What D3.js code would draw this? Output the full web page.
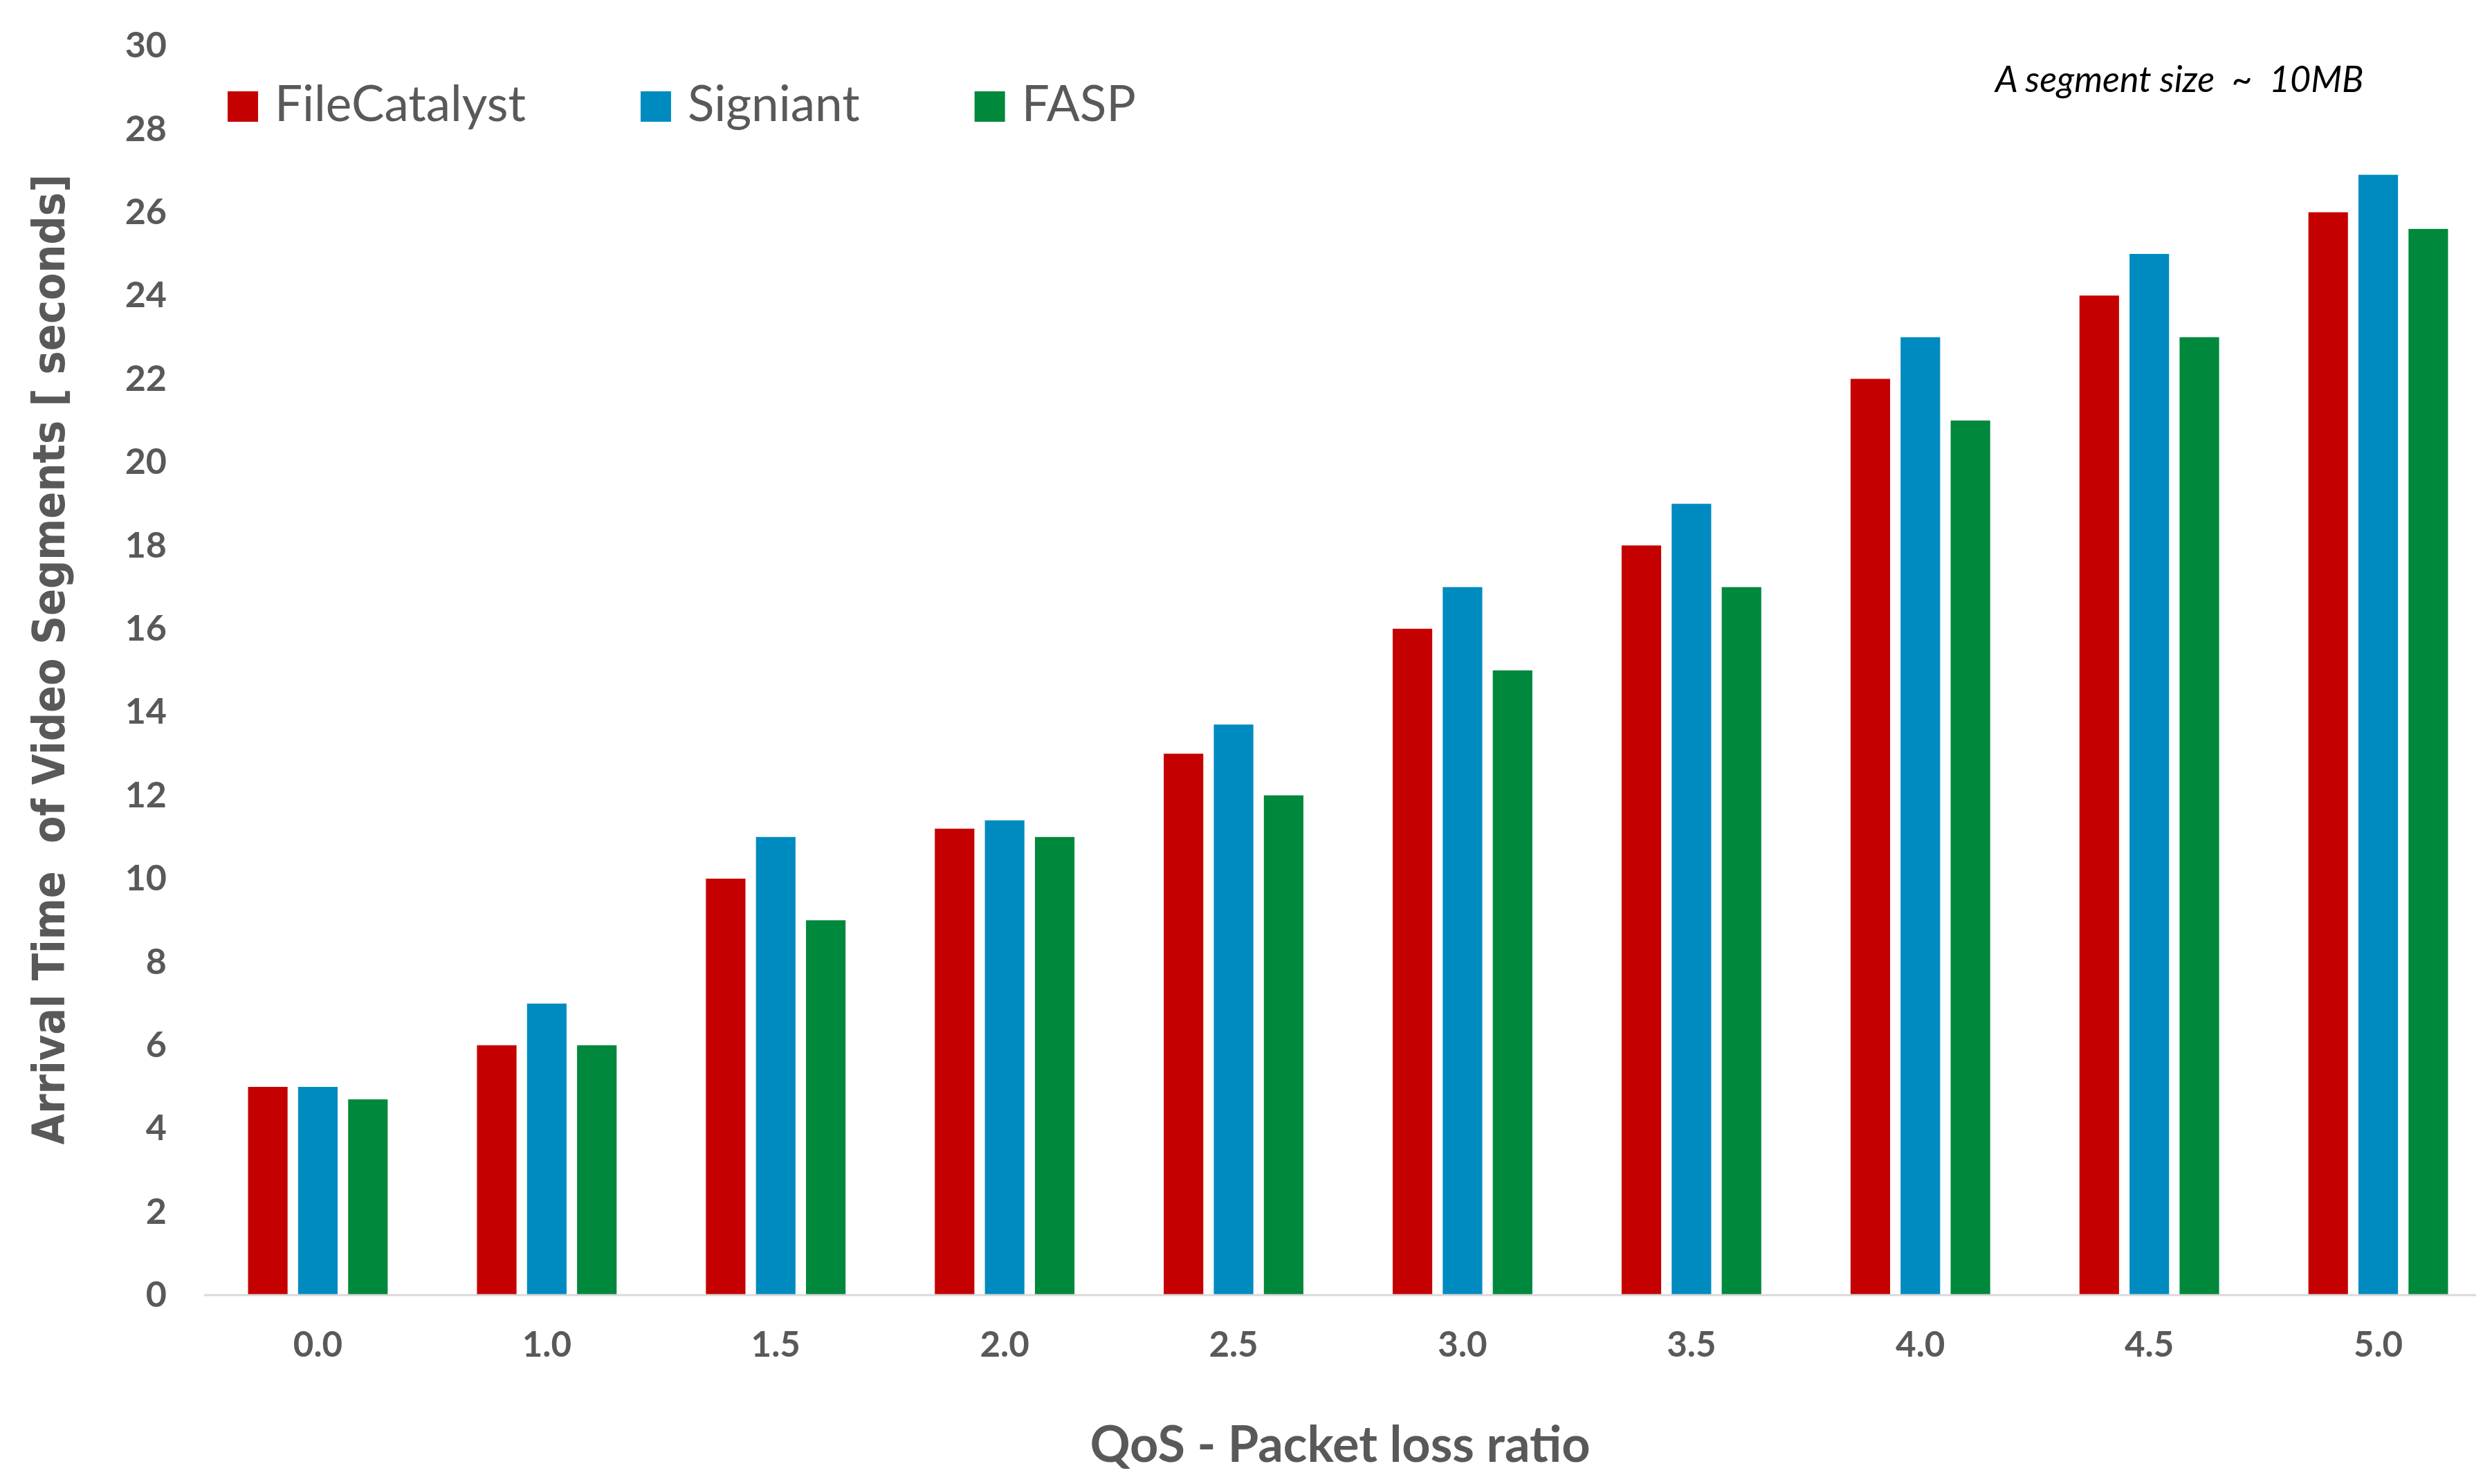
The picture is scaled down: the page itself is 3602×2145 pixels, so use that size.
<!DOCTYPE html>
<html>
<head>
<meta charset="utf-8">
<script src="https://cdn.jsdelivr.net/npm/d3@7"></script>
<style>
  html, body { margin: 0; padding: 0; background: #fff; }
  svg { display: block; }
</style>
</head>
<body>
<svg id="chart"></svg>
<script>
// Arrival time of video segments vs packet loss ratio

const categories = ['0.0', '1.0', '1.5', '2.0', '2.5', '3.0', '3.5', '4.0', '4.5', '5.0'];
const seriesNames = ['FileCatalyst', 'Signiant', 'FASP'];
const fileCatalystValues = [5, 6, 10, 11.2, 13, 16, 18, 22, 24, 26];
const signiantValues = [5, 7, 11, 11.4, 13.7, 17, 19, 23, 25, 26.9];
const faspValues = [4.7, 6, 9, 11, 12, 15, 17, 21, 23, 25.6];
const yTicks = [0, 2, 4, 6, 8, 10, 12, 14, 16, 18, 20, 22, 24, 26, 28, 30];

const colors = ['#C50000', '#008BC0', '#00883C'];
const seriesValues = [fileCatalystValues, signiantValues, faspValues];

const W = 3602, H = 2145;
const margin = { top: 66, right: 23, bottom: 273, left: 295 };
const width = W - margin.left - margin.right;
const height = H - margin.top - margin.bottom;
const textFont = "Lato, 'Open Sans', sans-serif";
const grey = '#595959';

const rows = categories.map((c, i) => ({
  category: c,
  values: seriesNames.map((s, j) => ({ series: s, idx: j, value: seriesValues[j][i] }))
}));

const svg = d3.select('#chart')
  .attr('width', W)
  .attr('height', H);

svg.append('rect').attr('width', W).attr('height', H).attr('fill', '#fff');

const g = svg.append('g')
  .attr('transform', `translate(${margin.left},${margin.top})`);

// category bands are a bit wider than the visible axis line
const x0 = d3.scaleBand()
  .domain(categories)
  .range([-1, width + 24])
  .padding(0);

const groupWidth = x0.bandwidth() * 0.61;

const x1 = d3.scaleBand()
  .domain(seriesNames)
  .range([0, groupWidth])
  .paddingInner(0.21)
  .paddingOuter(0);

const y = d3.scaleLinear()
  .domain([0, 30])
  .range([height, 0]);

// bars
const groups = g.selectAll('.group')
  .data(rows)
  .enter()
  .append('g')
  .attr('class', 'group')
  .attr('transform', d => `translate(${x0(d.category) + (x0.bandwidth() - groupWidth) / 2},0)`);

groups.selectAll('rect')
  .data(d => d.values)
  .enter()
  .append('rect')
  .attr('x', d => x1(d.series))
  .attr('y', d => y(d.value))
  .attr('width', x1.bandwidth())
  .attr('height', d => height - y(d.value))
  .attr('fill', d => colors[d.idx]);

// x axis
const xAxis = g.append('g')
  .attr('class', 'x-axis')
  .attr('transform', `translate(0,${height})`)
  .call(d3.axisBottom(x0).tickSize(0).tickPadding(0));

xAxis.select('.domain').remove();

xAxis.append('line')
  .attr('x1', 0)
  .attr('x2', width)
  .attr('stroke', '#D9D9D9')
  .attr('stroke-width', 3);

xAxis.selectAll('.tick text')
  .attr('y', 71)
  .attr('dy', '0.35em')
  .attr('font-family', textFont)
  .attr('font-weight', 'bold')
  .attr('font-size', '51px')
  .attr('fill', grey);

// y axis (labels only)
const yAxis = g.append('g')
  .attr('class', 'y-axis')
  .call(d3.axisLeft(y).tickValues(yTicks).tickSize(0).tickPadding(54));

yAxis.select('.domain').remove();

yAxis.selectAll('text')
  .attr('font-family', textFont)
  .attr('font-weight', 'bold')
  .attr('font-size', '52px')
  .attr('fill', grey);

// axis titles
svg.append('text')
  .attr('x', margin.left + width / 2)
  .attr('y', 2113)
  .attr('text-anchor', 'middle')
  .attr('font-family', textFont)
  .attr('font-weight', 'bold')
  .attr('font-size', '72px')
  .attr('fill', grey)
  .text('QoS - Packet loss ratio');

svg.append('text')
  .attr('transform', `translate(93,${953}) rotate(-90)`)
  .attr('text-anchor', 'middle')
  .attr('font-family', "'DejaVu Sans Condensed', 'DejaVu Sans', sans-serif")
  .attr('font-stretch', 'condensed')
  .attr('font-weight', 'bold')
  .attr('font-size', '64px')
  .attr('fill', grey)
  .style('white-space', 'pre')
  .text('Arrival Time  of Video Segments [ seconds]');

// legend
const legend = svg.append('g')
  .attr('class', 'legend')
  .attr('transform', 'translate(329,132)');

let lx = 0;
seriesNames.forEach((name, i) => {
  const item = legend.append('g').attr('transform', `translate(${lx},0)`);
  item.append('rect')
    .attr('width', 44)
    .attr('height', 44)
    .attr('fill', colors[i]);
  const t = item.append('text')
    .attr('x', 68)
    .attr('y', 43)
    .attr('font-family', textFont)
    .attr('font-size', '71px')
    .attr('fill', grey)
    .text(name);
  lx += 68 + t.node().getComputedTextLength() + 166;
});

// note
svg.append('text')
  .attr('x', 2884)
  .attr('y', 133)
  .attr('font-family', textFont)
  .attr('font-style', 'italic')
  .attr('font-size', '52px')
  .attr('fill', '#000')
  .style('white-space', 'pre')
  .text('A segment size  ~  10MB');
</script>
</body>
</html>
